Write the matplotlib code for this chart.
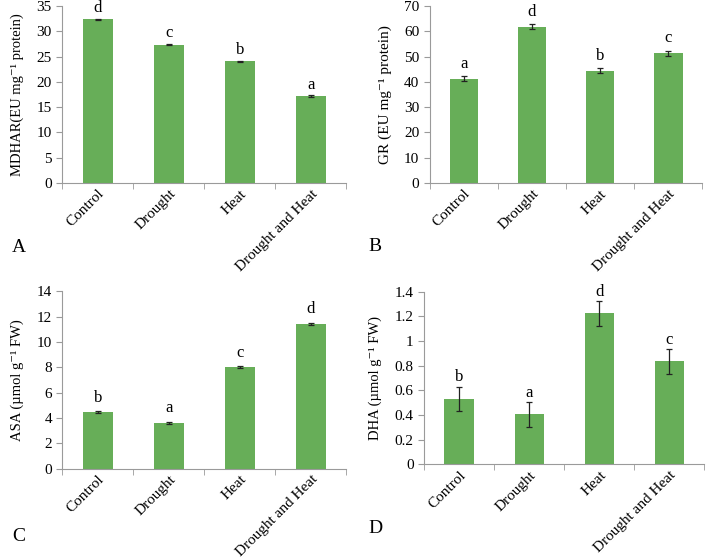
import matplotlib
matplotlib.use("Agg")
import matplotlib.pyplot as plt
from matplotlib.ticker import FuncFormatter, MultipleLocator

plt.rcParams['font.family'] = ['Liberation Serif', 'DejaVu Serif']

categories = ["Control", "Drought", "Heat", "Drought and Heat"]

mdhar = [32.4, 27.4, 24.1, 17.2]
mdhar_err = [0.15, 0.12, 0.12, 0.12]
mdhar_sig = ["d", "c", "b", "a"]

gr = [41.3, 61.8, 44.5, 51.4]
gr_err = [1.0, 1.0, 1.0, 1.0]
gr_sig = ["a", "d", "b", "c"]

asa = [4.45, 3.62, 8.02, 11.45]
asa_err = [0.08, 0.08, 0.08, 0.08]
asa_sig = ["b", "a", "c", "d"]

dha = [0.53, 0.405, 1.225, 0.835]
dha_err = [0.1, 0.1, 0.1, 0.1]
dha_sig = ["b", "a", "d", "c"]

panels = [
    # values, errors, letters, ylabel, label size, ymax, step, axes rect, panel letter, letter pos, letter gap
    (mdhar, mdhar_err, mdhar_sig, "MDHAR(EU mg\u207b\u00b9 protein)", 10.5, 35, 5,
     [0.088, 0.672, 0.401, 0.317], "A", (0.017, 0.541), 2),
    (gr, gr_err, gr_sig, "GR (EU mg\u207b\u00b9 protein)", 11, 70, 10,
     [0.607, 0.672, 0.385, 0.317], "B", (0.521, 0.543), 3),
    (asa, asa_err, asa_sig, "ASA (\u00b5mol g\u207b\u00b9 FW)", 10.5, 14, 2,
     [0.088, 0.160, 0.401, 0.318], "C", (0.017, 0.023), 4),
    (dha, dha_err, dha_sig, "DHA (\u00b5mol g\u207b\u00b9 FW)", 10.5, 1.4, 0.2,
     [0.599, 0.168, 0.396, 0.309], "D", (0.521, 0.037), 1),
]

bar_color = "#67AE58"
axis_color = "#9a9a9a"

fig = plt.figure(figsize=(7.08, 5.58), dpi=100)

for vals, errs, sig, ylabel, lsize, ymax, step, rect, letter, lpos, gap in panels:
    ax = fig.add_axes(rect)
    x = list(range(len(categories)))
    ax.bar(x, vals, width=0.42, color=bar_color, edgecolor="none", zorder=2)
    ax.errorbar(x, vals, yerr=errs, fmt="none", ecolor="#222222",
                elinewidth=0.9, capsize=2.5, capthick=0.9, zorder=3)
    for xi, v, e, s in zip(x, vals, errs, sig):
        ax.annotate(s, (xi, v + e), xytext=(0, gap), textcoords="offset points",
                    ha="center", va="bottom", fontsize=12)

    ax.set_xlim(-0.5, len(categories) - 0.5)
    ax.set_ylim(0, ymax)
    ax.yaxis.set_major_locator(MultipleLocator(step))
    ax.yaxis.set_major_formatter(FuncFormatter(lambda v, p: "%g" % round(v, 2)))

    ax.set_xticks(x)
    ax.set_xticklabels(categories, rotation=45, ha="right", va="top",
                       rotation_mode="anchor", fontsize=11)
    ax.set_xticks([i + 0.5 for i in range(-1, len(categories))], minor=True)
    ax.tick_params(axis="x", which="major", length=0, pad=3)
    ax.tick_params(axis="x", which="minor", length=4, color=axis_color,
                   direction="out")
    ax.tick_params(axis="y", length=4, color=axis_color, labelsize=11)
    ax.set_ylabel(ylabel, fontsize=lsize, labelpad=9)

    for side in ["top", "right"]:
        ax.spines[side].set_visible(False)
    for side in ["left", "bottom"]:
        ax.spines[side].set_color(axis_color)
        ax.spines[side].set_linewidth(0.8)

    fig.text(lpos[0], lpos[1], letter, fontsize=14, ha="left", va="bottom")

fig.savefig("out.png", dpi=100)
